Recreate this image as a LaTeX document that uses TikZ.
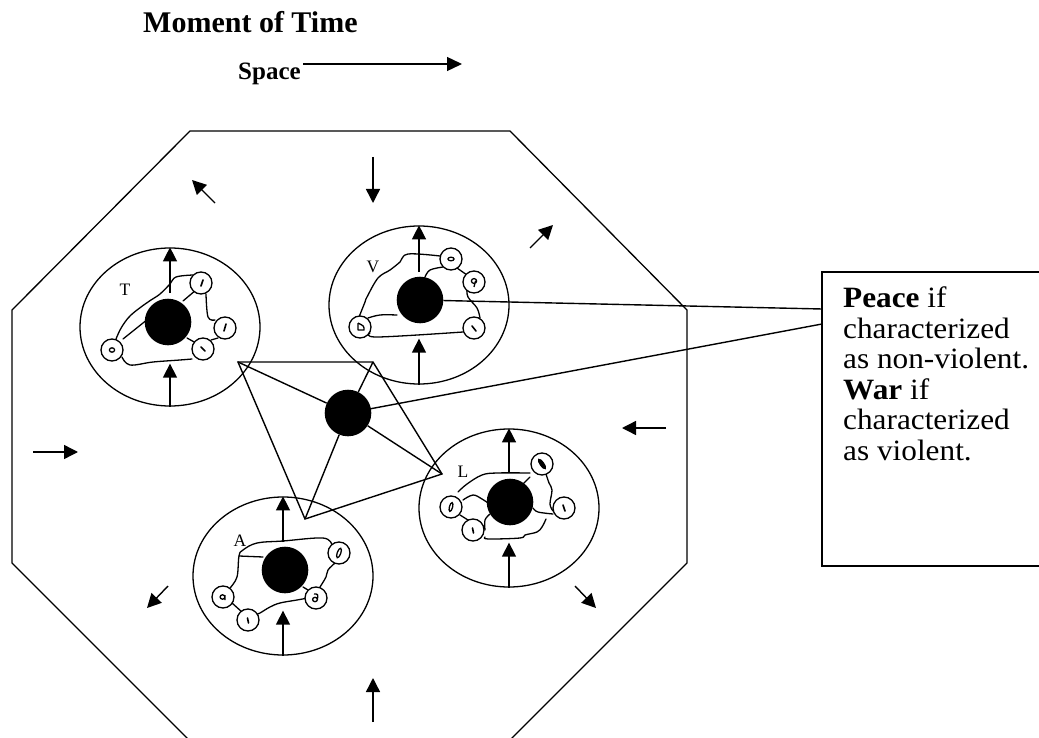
\documentclass[tikz,border=0pt]{standalone}
\usepackage{fontspec}
\setmainfont{Liberation Serif}
\usetikzlibrary{arrows.meta,shapes.geometric}
\newcommand{\widetext}[1]{\scalebox{1.06}[1]{#1}}
\begin{document}
\begin{tikzpicture}[x=1pt,y=-1pt,
  frame/.style={line width=1.3pt,line join=round},
  body/.style={line width=1.4pt},
  arr/.style={line width=1.4pt,-{Triangle[length=14pt,width=14pt]}},
  orbit/.style={draw,ellipse,line width=1.3pt,minimum width=180pt,minimum height=158pt,inner sep=0pt},
  disc/.style={circle,fill=black,minimum size=46.6pt,inner sep=0pt},
  cell/.style={circle,draw,fill=white,line width=1.3pt,minimum size=22pt,inner sep=0pt},
  wiggle/.style={line width=1.3pt,line join=round,line cap=round},
  tick/.style={line width=1.6pt,line cap=round},
  lab/.style={font=\fontsize{17.5}{17.5}\selectfont,inner sep=0pt},
  boxtext/.style={font=\fontsize{29.5}{30.5}\selectfont,inner sep=0pt,anchor=base west}
]
\useasboundingbox (0,0) rectangle (1039,738);
\clip (0,0) rectangle (1039,738);

% heading
\node[font=\bfseries\fontsize{30}{30}\selectfont,inner sep=0pt,anchor=base west] (title) at (143,33) {Moment of Time};
\node[font=\bfseries\fontsize{25}{25}\selectfont,inner sep=0pt,anchor=base west] (space) at (238,80) {Space};
\coordinate (sp0) at (303,64);
\coordinate (sp1) at (462,64);
\draw[line width=1.4pt,-{Triangle[length=15pt,width=14pt]}] (sp0) -- (sp1);

% octagonal frame
\draw[frame] (190,131) -- (510,131) -- (687,310) -- (687,563) -- (507,743)
  -- (192,743) -- (12,563) -- (12,310) -- cycle;

% outer arrows
\draw[arr] (215,203) -- (192,180);
\draw[arr] (373,157) -- (373,203);
\draw[arr] (530,248) -- (553,225);
\draw[arr] (33,452) -- (78,452);
\draw[arr] (666,428) -- (622,428);
\draw[arr] (168,586) -- (147,608);
\draw[arr] (575,586) -- (596,608);
\draw[arr] (373,722) -- (373,678);

% four orbits
\node[orbit] (Tell) at (170,327) {};
\node[orbit] (Vell) at (419,305) {};
\node[orbit] (Lell) at (509,508) {};
\node[orbit] (Aell) at (283,576) {};

\draw[arr] (Tell.south) -- ++(0,-43);
\draw[arr] (170,293) -- (Tell.north);
\draw[arr] (Vell.south) -- ++(0,-46);
\draw[arr] (419,272) -- (Vell.north);
\draw[arr] (Aell.south) -- ++(0,-45);
\draw[arr] (283,542) -- (Aell.north);
\draw[arr] (Lell.south) -- ++(0,-45);
\draw[arr] (509,473) -- (Lell.north);

% T network
\begin{scope}[shift={(168,322)}]
  \draw[wiggle] plot[smooth,tension=0.6] coordinates {(-52,17) (-48,8) (-43,0) (-37,-7) (-27,-15) (-17,-22) (-8,-28) (2,-38) (8,-45) (25,-47)};
  \draw[wiggle] plot[smooth,tension=0.6] coordinates {(-46,35) (-38,43) (-15,40) (12,38) (24,37)};
  \draw[wiggle] (-45,17) -- (-20,-3);
  \draw[wiggle] (28,-32) -- (15,-21);
  \draw[wiggle] plot[smooth,tension=0.6] coordinates {(38,-28) (40,-5) (47,-2)};
  \draw[wiggle] (50,16) -- (43,18);
  \draw[wiggle] (19,16) -- (28,21);
  \node[disc] (Tdisc) at (0,0) {};
  \node[cell] (t1) at (33,-39) {};
  \node[cell] (t2) at (57,6) {};
  \node[cell] (t3) at (35,27) {};
  \node[cell] (t4) at (-56,28) {};
  \draw[tick] (35,-42) -- (33,-36);
  \draw[tick] (58,2) -- (56,9);
  \draw[tick] (33,25) -- (37,29);
  \draw[line width=1.3pt] (-56,28) ellipse [x radius=2.6pt,y radius=2.2pt];
  \node[lab] (Tlab) at (-43,-32) {T};
\end{scope}

% V network
\begin{scope}[shift={(420,300)}]
  \draw[wiggle] plot[smooth,tension=0.6] coordinates {(-61,17) (-55,2) (-53,-3) (-42,-22) (-30,-30) (-20,-38) (-12,-46) (20,-44)};
  \draw[wiggle] plot[smooth,tension=0.6] coordinates {(23,-33) (10,-30) (5,-23)};
  \draw[wiggle] (37,-32) -- (47,-25);
  \draw[wiggle] plot[smooth,tension=0.6] coordinates {(47,-12) (48,-3) (57,8) (60,18)};
  \draw[wiggle] plot[smooth,tension=0.6] coordinates {(-52,18) (-40,15) (-23,15)};
  \draw[wiggle] plot[smooth,tension=0.6] coordinates {(-50,33) (-42,37) (43,32)};
  \node[disc] (Vdisc) at (0,0) {};
  \node[cell] (v1) at (31,-41) {};
  \node[cell] (v2) at (54,-18) {};
  \node[cell] (v3) at (54,28) {};
  \node[cell] (v4) at (-60,27) {};
  \draw[line width=1.3pt] (31,-41) ellipse [x radius=3pt,y radius=1.8pt];
  \draw[line width=1.3pt] (54,-19) ellipse [x radius=2.6pt,y radius=2.4pt] (55.5,-19) -- (54,-13);
  \draw[tick] (52,26) -- (56,31);
  \draw[line width=1.3pt,line join=round] (-62,23) -- (-62,30) -- (-56,30) .. controls (-56,26) .. (-62,23);
  \node[lab] (Vlab) at (-47,-33) {V};
\end{scope}

% A network
\begin{scope}[shift={(285,570)}]
  \draw[wiggle] plot[smooth,tension=0.6] coordinates {(47,-25) (38,-32) (-2,-29) (-28,-27) (-42,-20) (-46,-14) (-48,7) (-55,18)};
  \draw[wiggle] (-46,-14) -- (-22,-13);
  \draw[wiggle] plot[smooth,tension=0.6] coordinates {(50,-7) (43,0) (41,7) (35,17)};
  \draw[wiggle] (18,17) -- (23,20);
  \draw[wiggle] plot[smooth,tension=0.6] coordinates {(23,28) (12,30) (-5,33) (-15,37) (-25,43) (-30,45)};
  \draw[wiggle] (-53,33) -- (-43,42);
  \node[disc] (Adisc) at (0,0) {};
  \node[cell] (a1) at (54,-17) {};
  \node[cell] (a2) at (31,28) {};
  \node[cell] (a3) at (-37,50) {};
  \node[cell] (a4) at (-62,27) {};
  \draw[line width=1.3pt,rotate around={70:(54,-17)}] (54,-17) ellipse [x radius=5pt,y radius=1.8pt];
  \draw[line width=1.3pt] (30,29.5) ellipse [x radius=2.4pt,y radius=2.2pt] (32.5,29) .. controls (33,24) .. (29,24);
  \draw[tick] (-37.5,48) -- (-36.5,53);
  \draw[line width=1.3pt] (-62.5,27) ellipse [x radius=2.4pt,y radius=2.2pt] (-60,25) -- (-60,30);
  \node[lab] (Alab) at (-45,-29) {A};
\end{scope}

% L network
\begin{scope}[shift={(510,502)}]
  \draw[wiggle] plot[smooth,tension=0.6] coordinates {(-52,-10) (-43,-18) (-28,-27) (-13,-29) (20,-29)};
  \draw[wiggle] (20,-25) -- (12,-17);
  \draw[wiggle] plot[smooth,tension=0.6] coordinates {(36,-28) (39,-19) (42,-12) (40,2) (43,9)};
  \draw[wiggle] plot[smooth,tension=0.6] coordinates {(23,6) (28,10) (43,12)};
  \draw[wiggle] plot[smooth,tension=0.6] coordinates {(-25,35) (-22,37) (10,36) (15,33) (27,30) (32,25) (36,17)};
  \draw[wiggle] plot[smooth,tension=0.6] coordinates {(-47,-2) (-37,-7) (-28,-3) (-22,1)};
  \draw[wiggle] (-50,13) -- (-42,18);
  \draw[wiggle] plot[smooth,tension=0.6] coordinates {(-20,12) (-25,18) (-25,28)};
  \node[disc] (Ldisc) at (0,0) {};
  \node[cell] (l1) at (32,-38) {};
  \node[cell] (l2) at (54,6) {};
  \node[cell] (l3) at (-37,28) {};
  \node[cell] (l4) at (-59,5) {};
  \draw[line width=1.3pt,fill=black,rotate around={-55:(32,-38)}] (32,-38) ellipse [x radius=5.5pt,y radius=1.8pt];
  \draw[tick] (53,3) -- (55,9);
  \draw[tick] (-37.5,26) -- (-36.5,31);
  \draw[line width=1.3pt,rotate around={75:(-59,5)}] (-59,5) ellipse [x radius=4.5pt,y radius=1.6pt];
  \node[lab] (Llab) at (-47,-30) {L};
\end{scope}

% central linkage
\coordinate (q1) at (238,362);
\coordinate (q2) at (373,362);
\coordinate (q3) at (442,474);
\coordinate (q4) at (305,519);
\draw[body,line join=miter] (q1) -- (q2) -- (q3) -- (q4) -- cycle;
\node[disc] (Cdisc) at (348,413) {};
\foreach \q in {q1,q2,q3,q4} \draw[body] (Cdisc) -- (\q);

% explanation box
\draw[body] (822,272) rectangle (1060,566);
\coordinate (b1) at (822,309);
\coordinate (b2) at (822,324);
\draw[body] (Vdisc) -- (b1);
\draw[body] (Cdisc) -- (b2);
\node[boxtext] (x1) at (843,307.7) {\widetext{\textbf{Peace} if}};
\node[boxtext] (x2) at (843,338.2) {\widetext{characterized}};
\node[boxtext] (x3) at (843,368.7) {\widetext{as non-violent.}};
\node[boxtext] (x4) at (843,399.2) {\widetext{\textbf{War} if}};
\node[boxtext] (x5) at (843,429.7) {\widetext{characterized}};
\node[boxtext] (x6) at (843,460.2) {\widetext{as violent.}};
\end{tikzpicture}
\end{document}
